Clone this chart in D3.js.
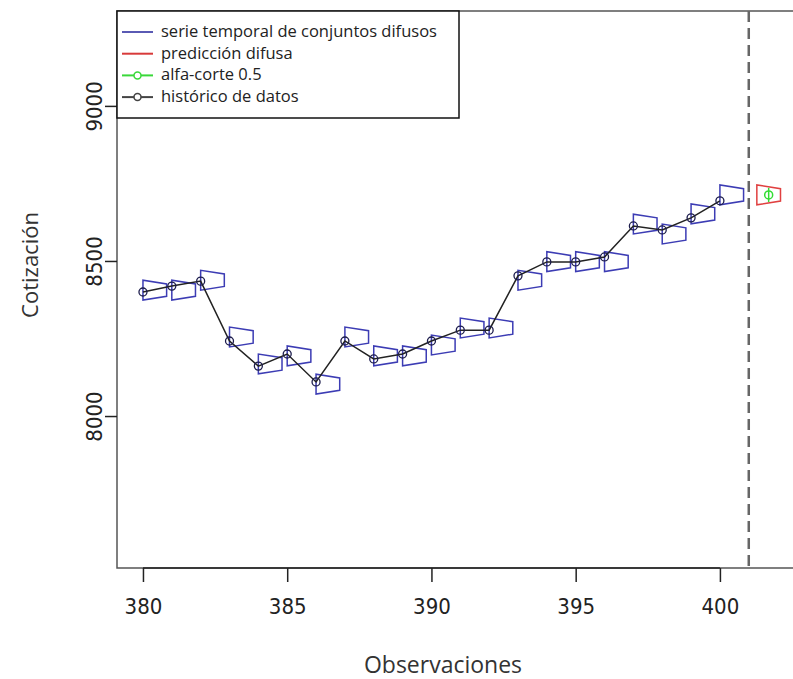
<!DOCTYPE html>
<html>
<head>
<meta charset="utf-8">
<script src="https://cdn.jsdelivr.net/npm/d3@7"></script>
<style>
  body { margin: 0; background: #fff; }
  svg { display: block; }
</style>
</head>
<body>
<div id="chart"></div>
<script>
// observaciones y cotizaciones
const observaciones = [380, 381, 382, 383, 384, 385, 386, 387, 388, 389, 390,
  391, 392, 393, 394, 395, 396, 397, 398, 399, 400]
const cotizaciones = [8400, 8419, 8435, 8242, 8161, 8200, 8110, 8242, 8184, 8200, 8242,
  8277, 8277, 8452, 8497, 8497, 8513, 8613, 8600, 8639, 8694]

// conjunto difuso trapezoidal de cada observación: [a, b, c, d]
const conjuntos = [
  [8374, 8386, 8426, 8438], [8374, 8386, 8426, 8438], [8406, 8418, 8458, 8470],
  [8223, 8235, 8275, 8287], [8136, 8148, 8188, 8200], [8162, 8174, 8214, 8226],
  [8071, 8083, 8123, 8135], [8223, 8235, 8275, 8287], [8162, 8174, 8214, 8226],
  [8162, 8174, 8214, 8226], [8197, 8209, 8249, 8261], [8252, 8264, 8304, 8316],
  [8252, 8264, 8304, 8316], [8406, 8418, 8458, 8470], [8466, 8478, 8518, 8530],
  [8466, 8478, 8518, 8530], [8466, 8478, 8518, 8530], [8587, 8599, 8639, 8651],
  [8555, 8567, 8607, 8619], [8620, 8632, 8672, 8684], [8681, 8693, 8733, 8745]
]

// predicción difusa para la observación 401
const prediccionT = 401.28
const prediccion = [8681, 8693, 8733, 8745]
const corteNivel = 0.5

const xTicks = [380, 385, 390, 395, 400]
const yTicks = [8000, 8500, 9000]
const leyenda = [
  { label: "serie temporal de conjuntos difusos", color: "#5a5ab4", punto: false },
  { label: "predicción difusa", color: "#d83a3a", punto: false },
  { label: "alfa-corte 0.5", color: "#3ad83a", punto: true },
  { label: "histórico de datos", color: "#444", punto: true }
]

const width = 793, height = 679
const plot = { left: 117, right: 818, top: 11, bottom: 568 }
const anchoTrap = 0.82

const x = d3.scaleLinear().domain([379.1, 403.4]).range([plot.left, plot.right])
const y = d3.scaleLinear().domain([7510, 9306]).range([plot.bottom, plot.top])

const svg = d3.select("#chart").append("svg")
  .attr("width", width).attr("height", height)

const tickFont = "'DejaVu Sans Condensed', 'Liberation Sans', sans-serif"
const textFont = "'Open Sans', 'Noto Sans', sans-serif"

// caja del gráfico
svg.append("path")
  .attr("d", `M${width + 5},${plot.top}H${plot.left}V${plot.bottom}H${width + 5}`)
  .attr("fill", "none").attr("stroke", "#555").attr("stroke-width", 1.5)

// ejes
const xAxis = svg.append("g")
  .attr("transform", `translate(0,${plot.bottom})`)
  .call(d3.axisBottom(x).tickValues(xTicks).tickSize(14).tickPadding(16))
xAxis.select(".domain").attr("stroke", "#222").attr("stroke-width", 1.5)
  .attr("d", `M${x(380)},0H${x(400)}`)
xAxis.selectAll(".tick line").attr("stroke", "#222").attr("stroke-width", 1.5)
xAxis.selectAll(".tick text").attr("font-family", tickFont).attr("font-size", 22).attr("fill", "#222")

const yAxis = svg.append("g")
  .attr("transform", `translate(${plot.left},0)`)
  .call(d3.axisLeft(y).tickValues(yTicks).tickSize(12).tickFormat(d3.format("d")))
yAxis.select(".domain").remove()
yAxis.selectAll(".tick line").attr("stroke", "#222").attr("stroke-width", 1.5)
yAxis.selectAll(".tick text")
  .attr("font-family", tickFont).attr("font-size", 22).attr("fill", "#222")
  .attr("text-anchor", "middle").attr("x", 0).attr("dy", 0)
  .attr("transform", "translate(-15,0) rotate(-90)")

// línea vertical de predicción
svg.append("line")
  .attr("x1", x(401)).attr("x2", x(401))
  .attr("y1", plot.top).attr("y2", plot.bottom)
  .attr("stroke", "#666").attr("stroke-width", 2.5)
  .attr("stroke-dasharray", "11,6")

const trapecio = (t, c) => [
  [x(t), y(c[0])], [x(t), y(c[3])],
  [x(t + anchoTrap), y(c[2])], [x(t + anchoTrap), y(c[1])]
]

// trapecios de la serie
svg.append("g").selectAll("polygon")
  .data(conjuntos)
  .join("polygon")
  .attr("points", (c, i) => trapecio(observaciones[i], c).join(" "))
  .attr("fill", "none").attr("stroke", "#3c3cb4").attr("stroke-width", 1.5)

// histórico
svg.append("path")
  .datum(cotizaciones)
  .attr("d", d3.line().x((d, i) => x(observaciones[i])).y(d => y(d)))
  .attr("fill", "none").attr("stroke", "#222").attr("stroke-width", 1.5)

svg.append("g").selectAll("circle")
  .data(cotizaciones)
  .join("circle")
  .attr("cx", (d, i) => x(observaciones[i])).attr("cy", d => y(d))
  .attr("r", 4).attr("fill", "none").attr("stroke", "#1c1c4c").attr("stroke-width", 1.3)

// predicción difusa
svg.append("polygon")
  .attr("points", trapecio(prediccionT, prediccion).join(" "))
  .attr("fill", "none").attr("stroke", "#e04040").attr("stroke-width", 1.5)

const tc = prediccionT + anchoTrap * corteNivel
const corteLo = prediccion[0] + (prediccion[1] - prediccion[0]) * corteNivel
const corteHi = prediccion[3] - (prediccion[3] - prediccion[2]) * corteNivel
svg.append("line")
  .attr("x1", x(tc)).attr("x2", x(tc))
  .attr("y1", y(corteLo) - 1).attr("y2", y(corteHi) + 1)
  .attr("stroke", "#33dd33").attr("stroke-width", 1.5)
svg.append("circle")
  .attr("cx", x(tc)).attr("cy", y((corteLo + corteHi) / 2))
  .attr("r", 4).attr("fill", "none").attr("stroke", "#33dd33").attr("stroke-width", 1.5)

// títulos de ejes
svg.append("text")
  .attr("x", 443).attr("y", 673)
  .attr("text-anchor", "middle")
  .attr("font-family", textFont).attr("font-size", 23).attr("fill", "#333")
  .text("Observaciones")

svg.append("text")
  .attr("transform", `translate(38,265) rotate(-90)`)
  .attr("text-anchor", "middle")
  .attr("font-family", textFont).attr("font-size", 22).attr("fill", "#333")
  .text("Cotización")

// leyenda
const lg = svg.append("g")
lg.append("rect")
  .attr("x", plot.left).attr("y", plot.top)
  .attr("width", 342).attr("height", 107)
  .attr("fill", "#fff").attr("stroke", "#111").attr("stroke-width", 1.5)

leyenda.forEach((e, i) => {
  const ly = 32 + i * 21.7
  lg.append("line")
    .attr("x1", 122).attr("x2", 153).attr("y1", ly).attr("y2", ly)
    .attr("stroke", e.color).attr("stroke-width", 2)
  if (e.punto) {
    lg.append("circle").attr("cx", 137.5).attr("cy", ly).attr("r", 3.5)
      .attr("fill", "#fff").attr("stroke", e.color).attr("stroke-width", 1.5)
  }
  lg.append("text")
    .attr("x", 161).attr("y", ly + 5)
    .attr("font-family", textFont).attr("font-size", 16.5).attr("fill", "#222")
    .text(e.label)
})
</script>
</body>
</html>
